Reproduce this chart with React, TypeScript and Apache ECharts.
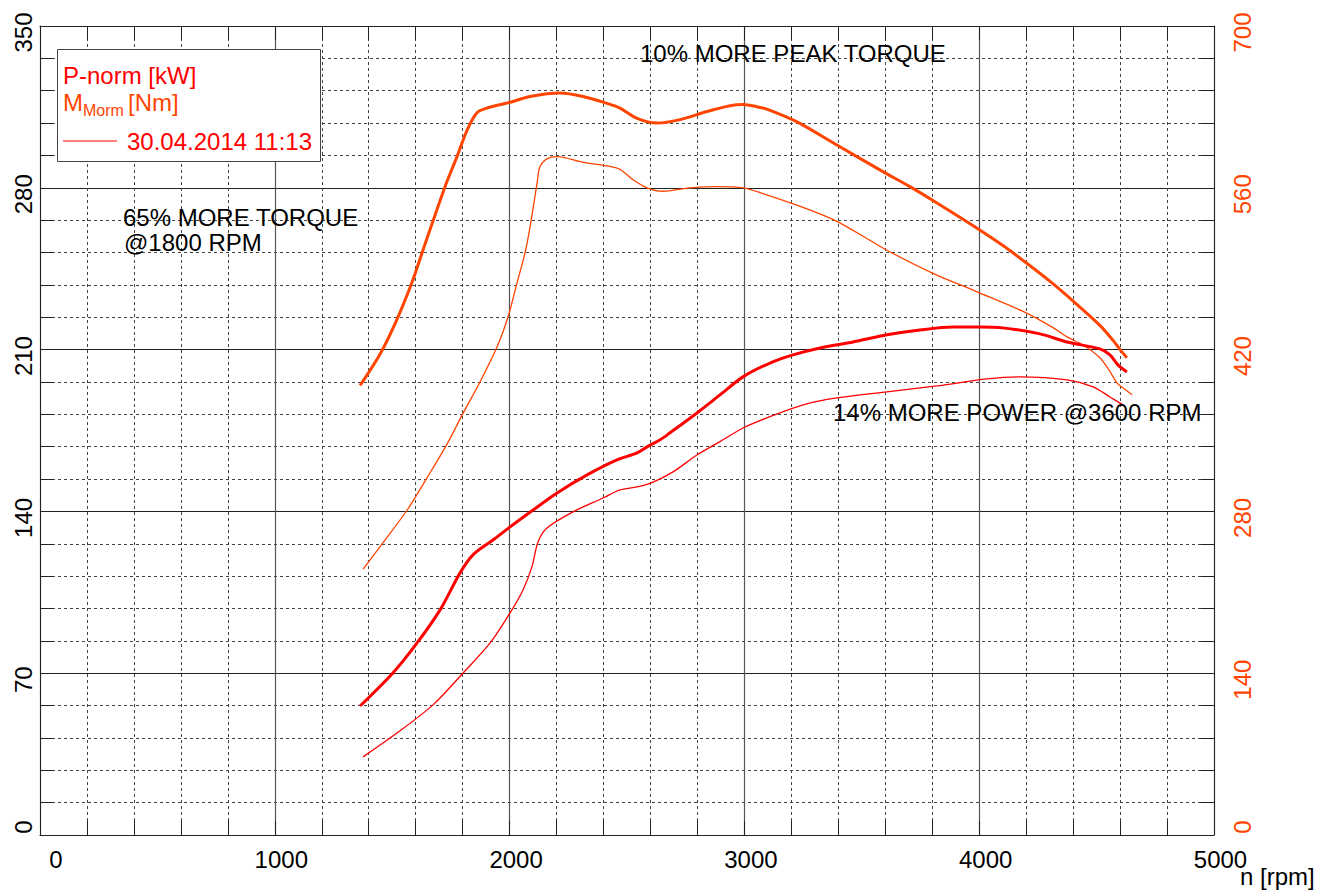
import React, { useEffect, useRef } from 'react';
import * as echarts from 'echarts';

// ---- data ----
const torqueTunedRpm = [1363, 1448, 1520, 1584, 1631, 1725, 1776, 1819, 1861, 1904, 2002, 2087, 2215, 2313, 2415, 2470, 2543, 2628, 2726, 2841, 2939, 2994, 3079, 3109, 3224, 3394, 3590, 3705, 3803, 3991, 4101, 4204, 4302, 4400, 4514, 4570, 4600, 4629];
const torqueTunedNm = [389, 416, 446, 478, 506, 561, 587, 610, 625, 629, 634, 639, 642, 639, 633, 629, 620, 616, 619, 626, 631, 632, 629, 627, 617, 597, 574, 561, 549, 525, 510, 494.5, 479, 462, 441, 428, 420, 413];

const torqueStockRpm = [1376, 1461, 1563, 1648, 1733, 1802, 1874, 1946, 1993, 2032, 2066, 2087, 2117, 2129, 2159, 2202, 2313, 2415, 2470, 2526, 2585, 2653, 2768, 2883, 2994, 3079, 3250, 3394, 3607, 3803, 3991, 4187, 4314, 4374, 4442, 4514, 4557, 4587, 4612, 4651];
const torqueStockNm = [230, 253, 281, 309, 338, 365, 392, 422, 448, 478, 504, 526, 564, 578, 585, 587, 582, 579, 576, 567, 560, 557, 560, 561, 560, 555, 543, 531, 506, 486, 470, 453, 439, 431, 424, 413, 401, 391, 387, 381];

const powerTunedRpm = [1363, 1503, 1606, 1704, 1789, 1844, 1929, 2002, 2100, 2202, 2330, 2457, 2543, 2585, 2641, 2683, 2798, 2896, 2994, 3109, 3207, 3322, 3463, 3607, 3748, 3888, 4003, 4101, 4259, 4374, 4514, 4557, 4591, 4629];
const powerTunedKw = [55.8, 70.1, 83.1, 97.4, 113.4, 121.2, 127.6, 133.3, 140.6, 148, 155.8, 162.3, 165.3, 167.9, 171, 174, 182.6, 190.4, 198.2, 204.2, 207.7, 210.7, 213.3, 216.4, 218.5, 219.8, 219.8, 219.4, 216.8, 213.3, 210.3, 207.7, 203.4, 200.3];

const powerStockRpm = [1376, 1520, 1674, 1802, 1917, 2002, 2057, 2095, 2121, 2159, 2270, 2398, 2470, 2543, 2611, 2696, 2798, 2896, 2994, 3109, 3250, 3394, 3607, 3820, 4033, 4174, 4374, 4485, 4557, 4612];
const powerStockKw = [33.8, 44.1, 56.3, 70.1, 83.1, 96.1, 106, 116, 126.8, 132.8, 139.8, 145.8, 149.3, 150.6, 152.7, 157.1, 164.4, 170.2, 176.1, 181, 186.1, 189.1, 191.7, 194.3, 197.3, 198.2, 196.9, 193.9, 189.5, 186.1];

const rpmRange = [0, 5000];
const rpmStep = 1000;
const powerRange = [0, 350];
const powerStep = 70;
const torqueRange = [0, 700];
const torqueStep = 140;

const legendTitles = ['P-norm [kW]', 'M', 'Morm', '[Nm]', '30.04.2014 11:13'];
const notes = ['10% MORE PEAK TORQUE', '65% MORE TORQUE', '@1800 RPM', '14% MORE POWER @3600 RPM'];
const xAxisTitle = 'n [rpm]';

const RED = '#ff0000';
const ORANGE = '#ff4500';
const FONT = "'Liberation Sans', Arial, Helvetica, sans-serif";

const pairs = (xs: number[], ys: number[]) => xs.map((x, i) => [x, ys[i]]);

export default function App() {
  const ref = useRef<HTMLDivElement>(null);
  useEffect(() => {
    if (!ref.current) return;
    const chart = echarts.init(ref.current, undefined, { renderer: 'svg' });
    const dashed = { color: '#444', width: 1, type: [3, 3] as any };
    const tickStyle = { color: '#222', width: 1 };
    const xLabelRich = {
      first: { fontSize: 24, fontFamily: FONT, color: '#000', padding: [0, 0, 0, 32] },
      norm: { fontSize: 24, fontFamily: FONT, color: '#000', padding: [0, 0, 0, 13] },
    };
    const yRich = (color: string) => ({
      z: { fontSize: 24, fontFamily: FONT, color, padding: [0, 0, 0, 16] },
      n: { fontSize: 24, fontFamily: FONT, color, padding: [0, 13, 0, 0] },
    });
    const txt = (text: string, x: number, y: number, size: number, fill: string) => ({
      type: 'text',
      x,
      y,
      z: 100,
      style: {
        text,
        fill,
        fontSize: size,
        fontFamily: FONT,
        align: 'left',
        verticalAlign: 'middle',
        textAlign: 'left',
        textVerticalAlign: 'middle',
      },
    });
    const lineSeries = (name: string, yAxisIndex: number, data: number[][], color: string, width: number) => ({
      name,
      type: 'line',
      xAxisIndex: 0,
      yAxisIndex,
      data,
      showSymbol: false,
      smooth: 0.3,
      lineStyle: { color, width },
      z: 5,
    });
    const option: any = {
      animation: false,
      backgroundColor: '#fff',
      grid: { left: 40, right: 106, top: 26, bottom: 58, containLabel: false, outerBoundsMode: 'none', show: false },
      xAxis: [
        {
          type: 'value',
          position: 'bottom',
          min: rpmRange[0],
          max: rpmRange[1],
          interval: rpmStep,
          axisLine: { show: true, onZero: false, lineStyle: { color: '#222', width: 1 } },
          axisTick: { show: true, inside: true, length: 14, lineStyle: tickStyle },
          minorTick: { show: true, splitNumber: 5, length: 14, lineStyle: tickStyle },
          splitLine: { show: true, lineStyle: { color: '#555', width: 1.2 } },
          minorSplitLine: { show: true, lineStyle: dashed },
          axisLabel: {
            show: true,
            margin: 12,
            showMinLabel: true,
            showMaxLabel: true,
            formatter: (v: number) => (v === 0 ? `{first|${v}}` : `{norm|${v}}`),
            rich: xLabelRich,
          },
        },
        {
          type: 'value',
          position: 'top',
          min: rpmRange[0],
          max: rpmRange[1],
          interval: rpmStep,
          axisLine: { show: true, onZero: false, lineStyle: { color: '#222', width: 1 } },
          axisTick: { show: true, inside: true, length: 14, lineStyle: tickStyle },
          minorTick: { show: true, splitNumber: 5, length: 14, lineStyle: tickStyle },
          splitLine: { show: false },
          axisLabel: { show: false },
        },
      ],
      yAxis: [
        {
          type: 'value',
          position: 'left',
          min: powerRange[0],
          max: powerRange[1],
          interval: powerStep,
          axisLine: { show: true, onZero: false, lineStyle: { color: '#222', width: 1 } },
          axisTick: { show: true, inside: true, length: 13, lineStyle: tickStyle },
          minorTick: { show: true, splitNumber: 5, length: 13, lineStyle: tickStyle },
          splitLine: { show: true, lineStyle: { color: '#222', width: 1 } },
          minorSplitLine: { show: true, lineStyle: dashed },
          axisLabel: {
            show: true,
            rotate: 90,
            margin: 5,
            showMinLabel: true,
            showMaxLabel: true,
            formatter: (v: number) => (v === 0 ? `{z|${v}}` : `{n|${v}}`),
            rich: yRich('#000'),
          },
        },
        {
          type: 'value',
          position: 'right',
          min: torqueRange[0],
          max: torqueRange[1],
          interval: torqueStep,
          axisLine: { show: true, onZero: false, lineStyle: { color: '#222', width: 1 } },
          axisTick: { show: true, inside: true, length: 13, lineStyle: tickStyle },
          minorTick: { show: true, splitNumber: 5, length: 13, lineStyle: tickStyle },
          splitLine: { show: false },
          axisLabel: {
            show: true,
            rotate: 90,
            margin: 16,
            showMinLabel: true,
            showMaxLabel: true,
            formatter: (v: number) => (v === 0 ? `{z|${v}}` : `{n|${v}}`),
            rich: yRich(ORANGE),
          },
        },
      ],
      series: [
        lineSeries('Torque tuned', 1, pairs(torqueTunedRpm, torqueTunedNm), ORANGE, 3),
        lineSeries('Torque stock', 1, pairs(torqueStockRpm, torqueStockNm), ORANGE, 1.3),
        lineSeries('Power tuned', 0, pairs(powerTunedRpm, powerTunedKw), RED, 3),
        lineSeries('Power stock', 0, pairs(powerStockRpm, powerStockKw), RED, 1.3),
      ],
      graphic: [
        {
          type: 'rect',
          z: 99,
          shape: { x: 57.5, y: 49.5, width: 263, height: 112 },
          style: { fill: '#fff', stroke: '#444', lineWidth: 1 },
        },
        txt(legendTitles[0], 63, 75, 24, RED),
        txt(legendTitles[1], 63, 102, 24, ORANGE),
        txt(legendTitles[2], 83, 110, 16, ORANGE),
        txt(legendTitles[3], 128, 102, 24, ORANGE),
        {
          type: 'line',
          z: 100,
          shape: { x1: 63, y1: 141, x2: 117, y2: 141 },
          style: { stroke: RED, lineWidth: 1.2 },
        },
        txt(legendTitles[4], 127, 141, 24, RED),
        txt(notes[0], 640, 53, 24, '#000'),
        txt(notes[1], 123, 217, 24, '#000'),
        txt(notes[2], 124, 242, 24, '#000'),
        txt(notes[3], 833, 412, 24, '#000'),
        txt(xAxisTitle, 1240, 876, 24, '#000'),
      ],
    };
    chart.setOption(option);
    return () => chart.dispose();
  }, []);
  return (
    <div
      ref={ref}
      style={{ position: 'absolute', left: 0, top: 0, width: 1320, height: 893, background: '#fff' }}
    />
  );
}
